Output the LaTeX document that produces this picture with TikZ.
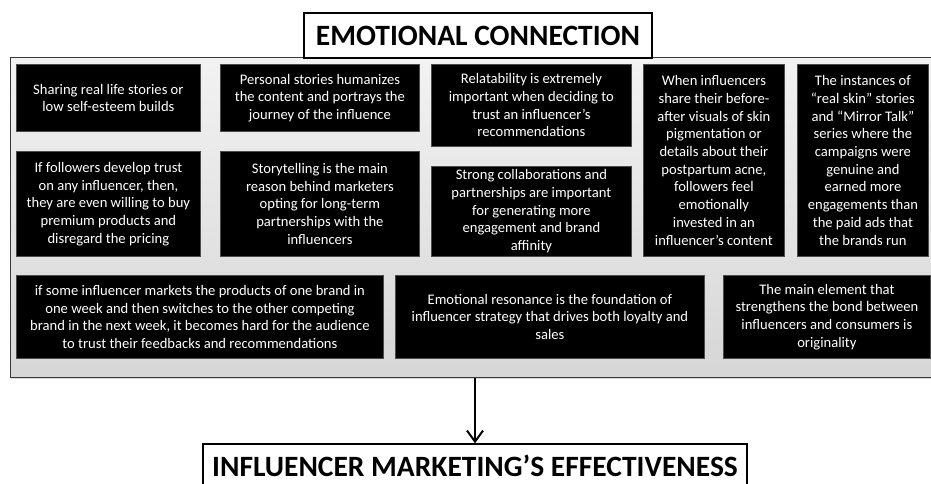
\documentclass[tikz,border=0pt]{standalone}
\usepackage{fontspec}
\setmainfont{Carlito}
\usetikzlibrary{arrows.meta,positioning,shadows}

\begin{document}
\begin{tikzpicture}[x=1pt, y=-1pt,
  panel/.style={draw=gray!45!black, line width=0.9pt, top color=gray!10, bottom color=gray!32,
                inner sep=0pt, anchor=north west,
                drop shadow={shadow xshift=1pt, shadow yshift=-2pt, opacity=0.3}},
  card/.style={draw=gray!60!black, line width=0.8pt, fill=black, text=white, align=center,
               inner sep=0pt, anchor=north west, font=\fontsize{14.6}{17.7}\selectfont},
  headbox/.style={draw, line width=1.4pt, fill=white, align=center, inner sep=0pt,
                  font=\fontsize{29.5}{34}\selectfont\bfseries},
  arr/.style={-{Straight Barb[length=11pt, width=16pt, line width=2pt]}, line width=1.9pt}
]
  \useasboundingbox (0,0) rectangle (931,484);

  % grey frame holding the statements
  \node[panel, minimum width=940pt, minimum height=320pt] (panel) at (10,57) {};
  \node[headbox, minimum width=348pt, minimum height=45pt] (title) at (478,35.5) {EMOTIONAL CONNECTION};

  % first two rows
  \node[card, minimum width=184pt, minimum height=67pt] (b1) at (16,64)
    {Sharing real life stories or\\low self-esteem builds};
  \node[card, minimum width=199pt, minimum height=67pt] (b2) at (220,64)
    {Personal stories humanizes\\the content and portrays the\\journey of the influence};
  \node[card, minimum width=200pt, minimum height=82pt] (b3) at (431,64)
    {Relatability is extremely\\important when deciding to\\trust an influencer’s\\recommendations};
  \node[card, minimum width=141pt, minimum height=192pt] (b4) at (643,64)
    {When influencers\\share their before-\\after visuals of skin\\pigmentation or\\details about their\\postpartum acne,\\followers feel\\emotionally\\invested in an\\influencer’s content};
  \node[card, minimum width=131pt, minimum height=192pt] (b5) at (797,64)
    {The instances of\\“real skin” stories\\and “Mirror Talk”\\series where the\\campaigns were\\genuine and\\earned more\\engagements than\\the paid ads that\\the brands run};
  \node[card, minimum width=184pt, minimum height=105pt] (b6) at (16,151)
    {If followers develop trust\\on any influencer, then,\\they are even willing to buy\\premium products and\\disregard the pricing};
  \node[card, minimum width=199pt, minimum height=105pt] (b7) at (220,151)
    {Storytelling is the main\\reason behind marketers\\opting for long-term\\partnerships with the\\influencers};
  \node[card, minimum width=200pt, minimum height=90pt] (b8) at (431,166)
    {Strong collaborations and\\partnerships are important\\for generating more\\engagement and brand\\affinity};

  % bottom row
  \node[card, minimum width=367pt, minimum height=83pt] (b9) at (16,275)
    {if some influencer markets the products of one brand in\\one week and then switches to the other competing\\brand in the next week, it becomes hard for the audience\\to trust their feedbacks and recommendations};
  \node[card, minimum width=309pt, minimum height=83pt] (b10) at (395,275)
    {Emotional resonance is the foundation of\\influencer strategy that drives both loyalty and\\sales};
  \node[card, minimum width=207pt, minimum height=83pt] (b11) at (723,275)
    {The main element that\\strengthens the bond between\\influencers and consumers is\\originality};

  \node[headbox, minimum width=544pt, minimum height=44pt] (result) at (475,466)
    {INFLUENCER MARKETING’S EFFECTIVENESS};

  \draw[arr] (result.north |- panel.south) -- (result.north);
\end{tikzpicture}
\end{document}
